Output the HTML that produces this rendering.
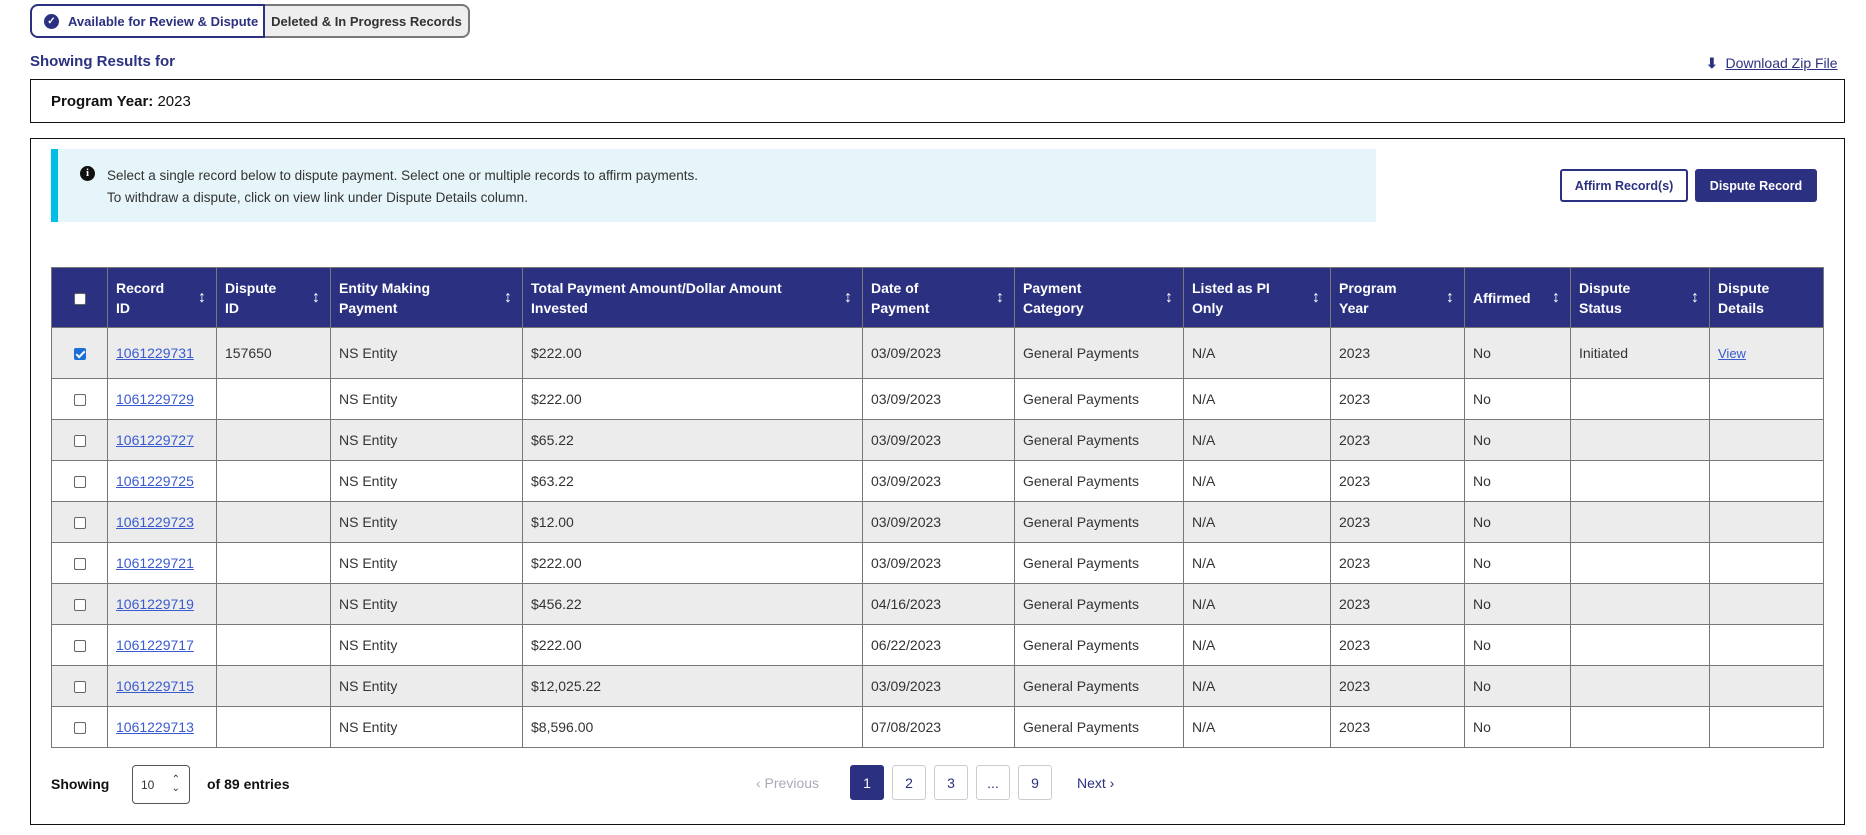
<!DOCTYPE html>
<html><head><meta charset="utf-8"><style>
*{box-sizing:border-box;margin:0;padding:0}
body{width:1866px;height:835px;background:#fff;font-family:"Liberation Sans",sans-serif;color:#222;position:relative;overflow:hidden;font-size:14px}
.abs{position:absolute}
.tab1{left:30px;top:4px;width:235px;height:34px;border:2px solid #2b3180;border-radius:8px 0 0 8px;font-weight:bold;font-size:13px;color:#2b3180;display:flex;align-items:center;padding-left:12px}
.tab1 .ck{width:15px;height:15px;border-radius:50%;background:#2b3180;color:#fff;font-size:10px;display:flex;align-items:center;justify-content:center;margin-right:9px}
.tab2{left:265px;top:4px;width:205px;height:34px;border:2px solid #777;border-left:none;border-radius:0 8px 8px 0;background:#eee;font-weight:bold;font-size:13px;color:#333;display:flex;align-items:center;justify-content:center}
.box{border:1.5px solid #111}
table{position:absolute;left:51px;top:267px;width:1772px;border-collapse:collapse;table-layout:fixed}
th{background:#2b3180;color:#fff;font-size:14px;text-align:left;padding:0 22px 0 8px;height:60px;border:1px solid #777;line-height:20px;position:relative;font-weight:bold}
th .s{position:absolute;right:10px;top:50%;transform:translateY(-50%);font-size:16px}
td{border:1px solid #777;padding:0 8px;font-size:14px;height:41px;color:#333}
tr.g td{background:#ececec}
td a{color:#3a5bd0;text-decoration:underline}
.cb{display:inline-block;width:12px;height:12px;border:1px solid #666;border-radius:2px;background:#fff;vertical-align:middle}
.cb.on{background:#1a6fd8;border-color:#1a6fd8;position:relative}
.cb.on:after{content:"";position:absolute;left:3px;top:0px;width:3px;height:7px;border:solid #fff;border-width:0 2px 2px 0;transform:rotate(45deg)}
.pg{top:765px;width:34px;height:35px;border:1px solid #ccc;border-radius:3px;display:flex;align-items:center;justify-content:center;font-size:14px;color:#2b3180}
</style></head><body>
<div class="abs tab1"><span class="ck">✓</span>Available for Review &amp; Dispute</div>
<div class="abs tab2">Deleted &amp; In Progress Records</div>
<div class="abs" style="left:30px;top:53px;font-size:15px;color:#2b3180;font-weight:bold">Showing Results for</div>
<div class="abs" style="left:1706px;top:55px;font-size:14px;color:#2b3180"><span style="font-weight:bold">⬇</span>&nbsp; <u>Download Zip File</u></div>
<div class="abs box" style="left:30px;top:79px;width:1815px;height:44px"></div>
<div class="abs" style="left:51px;top:93px;font-size:15px;color:#111"><b>Program Year:</b> 2023</div>
<div class="abs box" style="left:30px;top:138px;width:1815px;height:687px"></div>
<div class="abs" style="left:51px;top:149px;width:1325px;height:73px;background:#e6f5f9;border-left:7px solid #00bde3"></div>
<div class="abs" style="left:80px;top:166px;width:15px;height:15px;border-radius:50%;background:#111;color:#fff;font-size:11px;font-weight:bold;text-align:center;line-height:15px;font-family:'Liberation Serif',serif">i</div>
<div class="abs" style="left:107px;top:165px;font-size:13.5px;line-height:22px;color:#333">Select a single record below to dispute payment. Select one or multiple records to affirm payments.<br>To withdraw a dispute, click on view link under Dispute Details column.</div>
<div class="abs" style="left:1560px;top:169px;width:128px;height:33px;border:2px solid #2b3180;border-radius:3px;font-size:12.5px;font-weight:bold;color:#2b3180;display:flex;align-items:center;justify-content:center">Affirm Record(s)</div>
<div class="abs" style="left:1695px;top:169px;width:122px;height:33px;background:#2b3180;border-radius:3px;font-size:12.5px;font-weight:bold;color:#fff;display:flex;align-items:center;justify-content:center">Dispute Record</div>
<table>
<colgroup><col style="width:56px"><col style="width:109px"><col style="width:114px"><col style="width:192px"><col style="width:340px"><col style="width:152px"><col style="width:169px"><col style="width:147px"><col style="width:134px"><col style="width:106px"><col style="width:139px"><col style="width:114px"></colgroup>
<tr><th style="text-align:center;padding:0"><span class="cb"></span></th><th>Record<br>ID<span class="s">↕</span></th><th>Dispute<br>ID<span class="s">↕</span></th><th>Entity Making<br>Payment<span class="s">↕</span></th><th>Total Payment Amount/Dollar Amount<br>Invested<span class="s">↕</span></th><th>Date of<br>Payment<span class="s">↕</span></th><th>Payment<br>Category<span class="s">↕</span></th><th>Listed as PI<br>Only<span class="s">↕</span></th><th>Program<br>Year<span class="s">↕</span></th><th>Affirmed<span class="s">↕</span></th><th>Dispute<br>Status<span class="s">↕</span></th><th>Dispute<br>Details</th></tr>
<tr class="g"><td style="height:51px;text-align:center"><span class="cb on"></span></td><td><a>1061229731</a></td><td>157650</td><td>NS Entity</td><td>$222.00</td><td>03/09/2023</td><td>General Payments</td><td>N/A</td><td>2023</td><td>No</td><td>Initiated</td><td><a style="font-size:13px">View</a></td></tr>
<tr><td style="text-align:center"><span class="cb"></span></td><td><a>1061229729</a></td><td></td><td>NS Entity</td><td>$222.00</td><td>03/09/2023</td><td>General Payments</td><td>N/A</td><td>2023</td><td>No</td><td></td><td></td></tr>
<tr class="g"><td style="text-align:center"><span class="cb"></span></td><td><a>1061229727</a></td><td></td><td>NS Entity</td><td>$65.22</td><td>03/09/2023</td><td>General Payments</td><td>N/A</td><td>2023</td><td>No</td><td></td><td></td></tr>
<tr><td style="text-align:center"><span class="cb"></span></td><td><a>1061229725</a></td><td></td><td>NS Entity</td><td>$63.22</td><td>03/09/2023</td><td>General Payments</td><td>N/A</td><td>2023</td><td>No</td><td></td><td></td></tr>
<tr class="g"><td style="text-align:center"><span class="cb"></span></td><td><a>1061229723</a></td><td></td><td>NS Entity</td><td>$12.00</td><td>03/09/2023</td><td>General Payments</td><td>N/A</td><td>2023</td><td>No</td><td></td><td></td></tr>
<tr><td style="text-align:center"><span class="cb"></span></td><td><a>1061229721</a></td><td></td><td>NS Entity</td><td>$222.00</td><td>03/09/2023</td><td>General Payments</td><td>N/A</td><td>2023</td><td>No</td><td></td><td></td></tr>
<tr class="g"><td style="text-align:center"><span class="cb"></span></td><td><a>1061229719</a></td><td></td><td>NS Entity</td><td>$456.22</td><td>04/16/2023</td><td>General Payments</td><td>N/A</td><td>2023</td><td>No</td><td></td><td></td></tr>
<tr><td style="text-align:center"><span class="cb"></span></td><td><a>1061229717</a></td><td></td><td>NS Entity</td><td>$222.00</td><td>06/22/2023</td><td>General Payments</td><td>N/A</td><td>2023</td><td>No</td><td></td><td></td></tr>
<tr class="g"><td style="text-align:center"><span class="cb"></span></td><td><a>1061229715</a></td><td></td><td>NS Entity</td><td>$12,025.22</td><td>03/09/2023</td><td>General Payments</td><td>N/A</td><td>2023</td><td>No</td><td></td><td></td></tr>
<tr><td style="text-align:center"><span class="cb"></span></td><td><a>1061229713</a></td><td></td><td>NS Entity</td><td>$8,596.00</td><td>07/08/2023</td><td>General Payments</td><td>N/A</td><td>2023</td><td>No</td><td></td><td></td></tr>
</table>
<div class="abs" style="left:51px;top:776px;font-size:14px;font-weight:bold;color:#111">Showing</div>
<div class="abs" style="left:132px;top:765px;width:58px;height:39px;border:1px solid #555;border-radius:4px;font-size:12px;padding:12px 0 0 8px;color:#333">10 <span style="position:absolute;right:9px;top:9px;font-size:10px;line-height:9px">⌃<br>⌄</span></div>
<div class="abs" style="left:207px;top:776px;font-size:14px;font-weight:bold;color:#111">of 89 entries</div>
<div class="abs" style="left:756px;top:775px;font-size:14px;color:#aab">‹ Previous</div>
<div class="abs pg" style="left:850px;background:#2b3180;color:#fff;border-color:#2b3180">1</div>
<div class="abs pg" style="left:892px">2</div>
<div class="abs pg" style="left:934px">3</div>
<div class="abs pg" style="left:976px">...</div>
<div class="abs pg" style="left:1018px">9</div>
<div class="abs" style="left:1077px;top:775px;font-size:14px;color:#2b3180">Next ›</div>
</body></html>
